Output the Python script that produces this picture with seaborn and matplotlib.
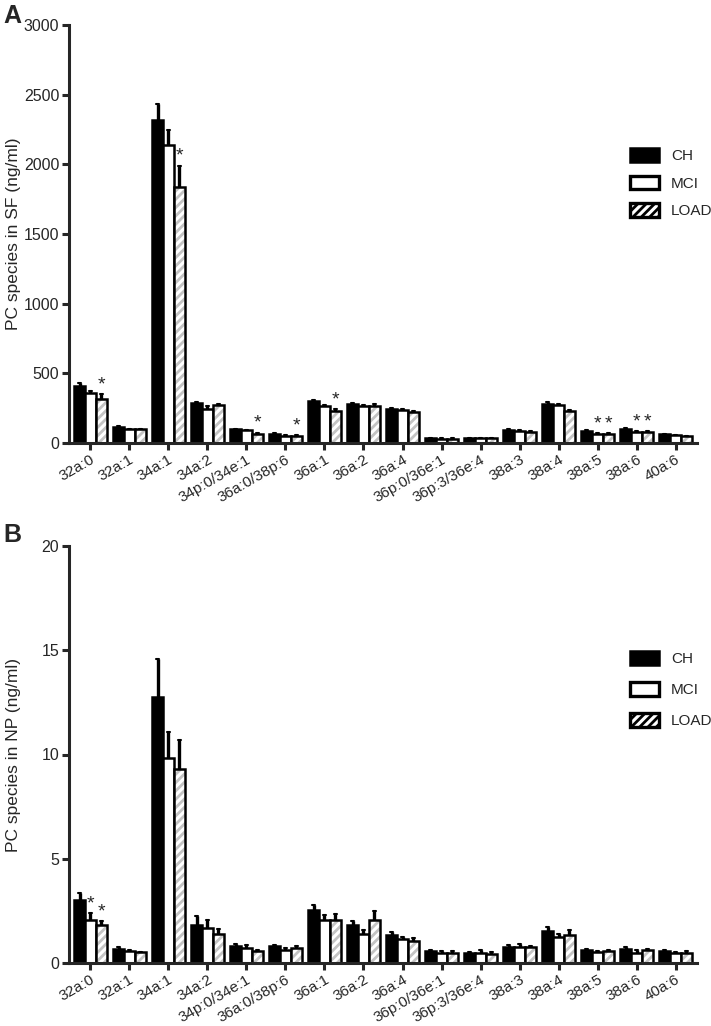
import numpy as np
import pandas as pd
import matplotlib
matplotlib.use("Agg")
import matplotlib.pyplot as plt
from matplotlib.patches import Patch, Rectangle
import seaborn as sns

# =====================================================
# Données
# =====================================================

species = ["32a:0", "32a:1", "34a:1", "34a:2", "34p:0/34e:1", "36a:0/38p:6",
           "36a:1", "36a:2", "36a:4", "36p:0/36e:1", "36p:3/36e:4", "38a:3",
           "38a:4", "38a:5", "38a:6", "40a:6"]
groups = ["CH", "MCI", "LOAD"]

# Panel A : SF (ng/ml)
ch_sf = [410, 115, 2320, 288, 98, 65, 300, 281, 247, 34, 36, 94, 281, 89, 101, 62]
mci_sf = [360, 98, 2140, 247, 91, 53, 264, 264, 238, 29, 34, 89, 271, 65, 77, 55]
load_sf = [319, 98, 1840, 271, 67, 48, 228, 269, 221, 31, 36, 82, 228, 65, 77, 48]
ch_sf_err = [20, 8, 110, 8, 5, 5, 8, 8, 6, 4, 3, 5, 10, 6, 6, 4]
mci_sf_err = [15, 5, 110, 15, 5, 5, 10, 12, 8, 4, 3, 5, 10, 6, 6, 4]
load_sf_err = [30, 5, 150, 12, 8, 6, 15, 10, 10, 4, 3, 5, 12, 6, 6, 4]
stars_sf = [("32a:0", "LOAD"), ("34a:1", "LOAD"), ("34p:0/34e:1", "LOAD"),
            ("36a:0/38p:6", "LOAD"), ("36a:1", "LOAD"), ("38a:5", "MCI"),
            ("38a:5", "LOAD"), ("38a:6", "MCI"), ("38a:6", "LOAD")]

# Panel B : NP (ng/ml)
ch_np = [3.0, 0.69, 12.75, 1.8, 0.8, 0.8, 2.53, 1.8, 1.36, 0.59, 0.5, 0.75, 1.52, 0.61, 0.69, 0.56]
mci_np = [2.05, 0.56, 9.85, 1.68, 0.72, 0.64, 2.08, 1.41, 1.14, 0.5, 0.5, 0.77, 1.25, 0.53, 0.5, 0.46]
load_np = [1.8, 0.51, 9.3, 1.39, 0.56, 0.72, 2.08, 2.08, 1.04, 0.5, 0.43, 0.75, 1.33, 0.56, 0.61, 0.5]
ch_np_err = [0.37, 0.08, 1.85, 0.44, 0.13, 0.08, 0.23, 0.2, 0.13, 0.04, 0.04, 0.1, 0.21, 0.08, 0.08, 0.06]
mci_np_err = [0.35, 0.04, 1.25, 0.4, 0.13, 0.08, 0.21, 0.16, 0.11, 0.09, 0.11, 0.13, 0.16, 0.05, 0.1, 0.08]
load_np_err = [0.2, 0.04, 1.4, 0.24, 0.08, 0.08, 0.28, 0.4, 0.16, 0.09, 0.08, 0.08, 0.27, 0.05, 0.08, 0.06]
stars_np = [("32a:0", "MCI"), ("32a:0", "LOAD")]

colors = {"CH": "black", "MCI": "white", "LOAD": "white"}

# =====================================================
# Style
# =====================================================

sns.set_style("ticks")
plt.rcParams["font.family"] = ["Liberation Sans", "DejaVu Sans"]
plt.rcParams["hatch.linewidth"] = 2.0


def draw_panel(ax, ch, mci, load, ch_err, mci_err, load_err, stars,
               ymax, ystep, ylabel, leg_pos, leg_space):

    df = pd.DataFrame({
        "species": species * 3,
        "group": np.repeat(groups, len(species)),
        "value": ch + mci + load,
    })

    sns.barplot(
        data=df, x="species", y="value", hue="group",
        order=species, hue_order=groups, palette=colors,
        edgecolor="black", linewidth=1.8, width=0.84,
        errorbar=None, legend=False, saturation=1, ax=ax
    )

    errs = {"CH": ch_err, "MCI": mci_err, "LOAD": load_err}

    for g, cont in zip(groups, ax.containers):
        for i, bar in enumerate(cont.patches):
            x = bar.get_x() + bar.get_width() / 2
            top = bar.get_height()
            if g == "LOAD":
                bar.set_hatch("////")
                bar.set_edgecolor("#c4c4c4")
                bar.set_linewidth(0)
                ax.add_patch(Rectangle((bar.get_x(), 0), bar.get_width(), top,
                                       fill=False, edgecolor="black",
                                       linewidth=1.8, zorder=bar.get_zorder() + 0.1))
            e = errs[g][i]
            ax.plot([x, x], [top, top + e], color="black", lw=2.4,
                    solid_capstyle="butt", zorder=3)
            ax.plot([x - bar.get_width() * 0.15, x + bar.get_width() * 0.15],
                    [top + e, top + e], color="black", lw=1.5, zorder=3)
            if (species[i], g) in stars:
                ax.text(x, top + e + ymax * 0.002, "*", ha="center",
                        va="bottom", fontsize=14)

    ax.set_xlim(-0.55, len(species) - 0.45)
    ax.set_ylim(0, ymax)
    ax.set_yticks(np.arange(0, ymax + ystep / 2, ystep))
    ax.set_xlabel("")
    ax.set_ylabel(ylabel, fontsize=12.5)
    ax.yaxis.set_label_coords(-0.076, 0.5)
    ax.tick_params(axis="y", labelsize=11.5, width=2.2, length=5, pad=2)
    ax.tick_params(axis="x", labelsize=11, width=2.2, length=5, pad=2)
    plt.setp(ax.get_xticklabels(), rotation=30, ha="right",
             rotation_mode="anchor")

    for s in ["left", "bottom"]:
        ax.spines[s].set_linewidth(2.2)
    sns.despine(ax=ax)

    handles = [
        Patch(facecolor="black", edgecolor="black", linewidth=1.8),
        Patch(facecolor="white", edgecolor="black", linewidth=2.4),
        Patch(facecolor="white", edgecolor="#a8a8a8", hatch="////", linewidth=2.4),
    ]
    leg = ax.legend(handles, groups, loc="upper left", bbox_to_anchor=leg_pos,
                    frameon=False, fontsize=11, handlelength=1.9,
                    handleheight=1.0, labelspacing=leg_space, handletextpad=0.8,
                    borderaxespad=0, borderpad=0)
    leg.legend_handles[2].set_edgecolor("black")


fig = plt.figure(figsize=(7.11, 10.26), dpi=100)

axA = fig.add_axes([69 / 711, 1 - 443 / 1026, 628 / 711, 418 / 1026])
axB = fig.add_axes([69 / 711, 1 - 963 / 1026, 628 / 711, 417 / 1026])

draw_panel(axA, ch_sf, mci_sf, load_sf, ch_sf_err, mci_sf_err, load_sf_err,
           stars_sf, 3000, 500, "PC species in SF (ng/ml)", (0.893, 0.705), 0.8)
draw_panel(axB, ch_np, mci_np, load_np, ch_np_err, mci_np_err, load_np_err,
           stars_np, 20, 5, "PC species in NP (ng/ml)", (0.893, 0.748), 1.05)

fig.text(3 / 711, 1 - 4 / 1026, "A", fontsize=18, fontweight="bold",
         ha="left", va="top")
fig.text(3 / 711, 1 - 523 / 1026, "B", fontsize=18, fontweight="bold",
         ha="left", va="top")

fig.savefig("out.png", dpi=100)
